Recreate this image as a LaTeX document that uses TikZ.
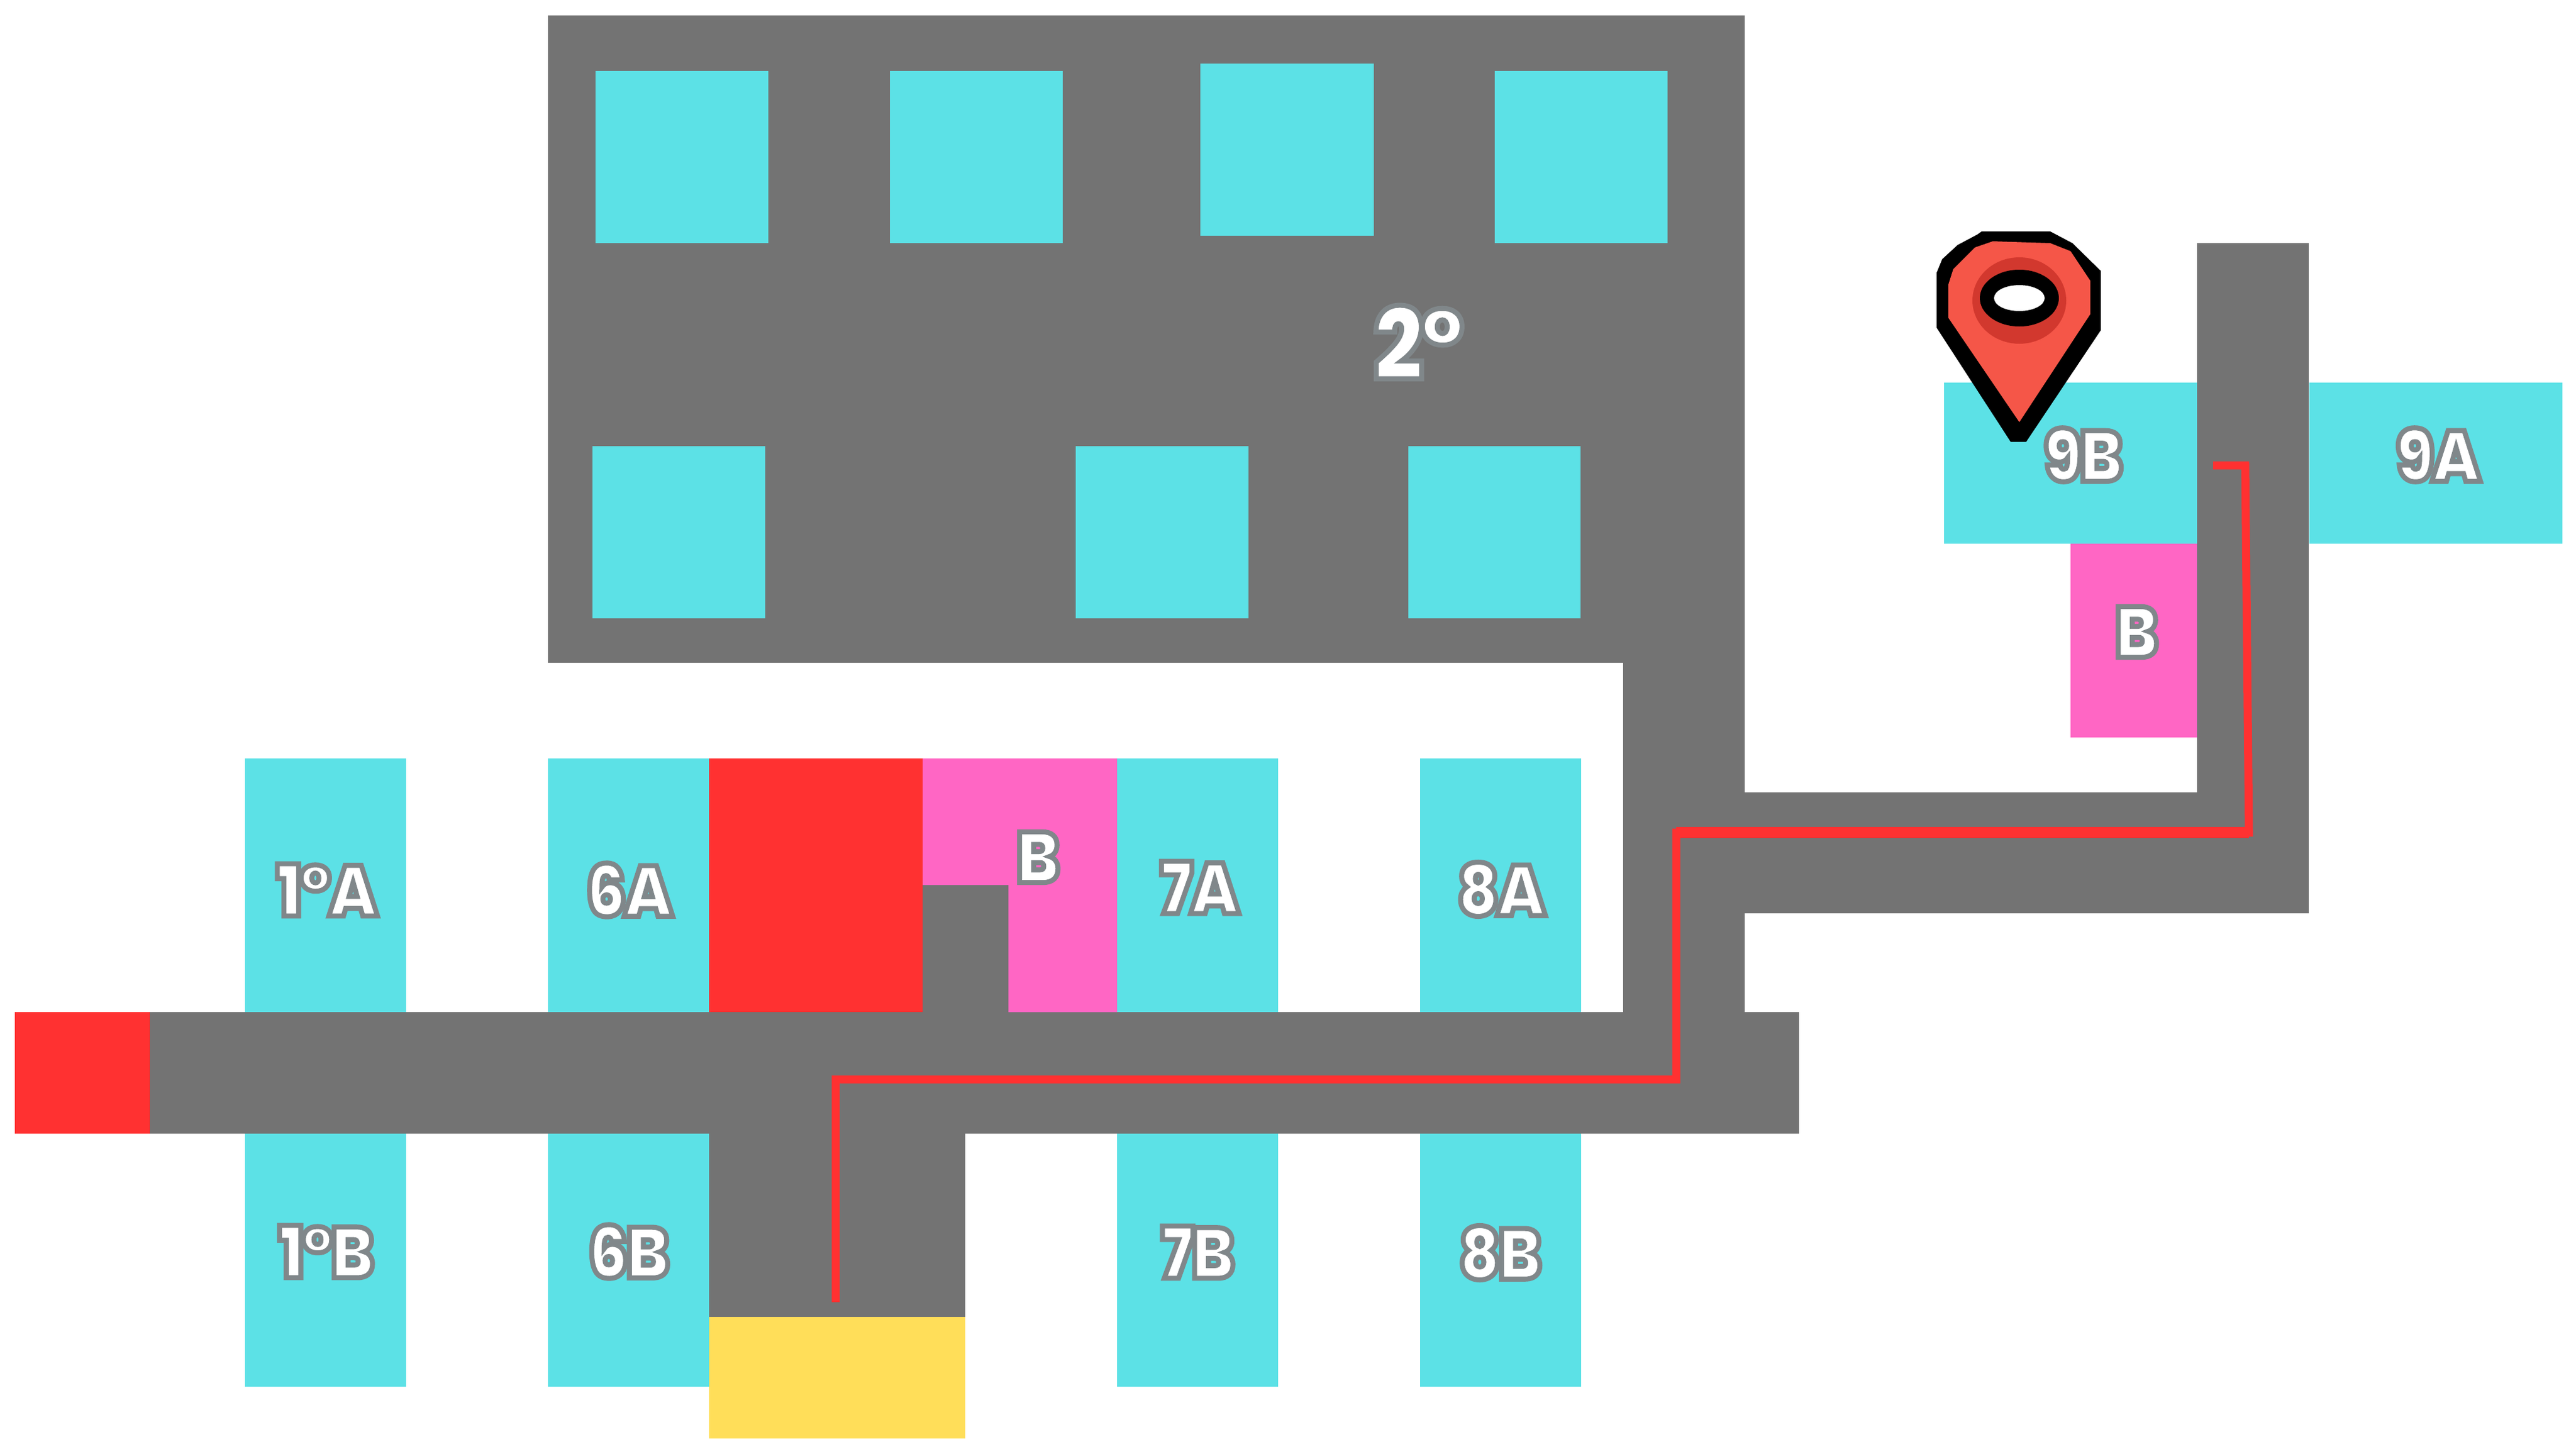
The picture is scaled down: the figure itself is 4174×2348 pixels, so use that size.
\documentclass[tikz,border=0pt]{standalone}
\usepackage{fontspec}
\newfontfamily\labfont{Poppins Black}[LetterSpace=-3,FakeStretch=0.88]
\definecolor{roomcyan}{HTML}{5CE1E6}
\definecolor{floorgrey}{HTML}{737373}
\definecolor{exitred}{HTML}{FF3131}
\definecolor{bathpink}{HTML}{FF66C4}
\definecolor{stairyellow}{HTML}{FFDE59}
\definecolor{pinred}{HTML}{F55648}
\definecolor{pindark}{HTML}{D2382E}
\newcommand{\outl}[2]{\special{pdf:code q 2 Tr #1 w 0.50 0.53 0.54 RG}#2\special{pdf:code Q}}
\tikzset{
  room/.style={fill=roomcyan},
  floorarea/.style={fill=floorgrey},
  label/.style={inner sep=0pt,text=white,font=\fontsize{33pt}{33pt}\labfont},
  route/.style={draw=exitred,line width=0.13cm,line join=miter}
}
\begin{document}
\begin{tikzpicture}[x=0.01cm,y=-0.01cm]
\useasboundingbox (0,0) rectangle (4174,2348);
% grey floors
\fill[floorarea] (888,25) rectangle (2827,1074);
\fill[floorarea] (2630,1074) rectangle (2827,1640);
\fill[floorarea] (243,1640) rectangle (2915,1837);
\fill[floorarea] (2630,1284) rectangle (3741,1480);
\fill[floorarea] (3560,394) rectangle (3741,1480);
\fill[floorarea] (1149,1837) rectangle (1564,2134);
\fill[floorarea] (1495,1434) rectangle (1634,1640);
% upper rooms
\fill[room] (965,115) rectangle (1245,394);
\fill[room] (1442,115) rectangle (1722,394);
\fill[room] (1945,103) rectangle (2226,382);
\fill[room] (2422,115) rectangle (2702,394);
\fill[room] (960,723) rectangle (1240,1002);
\fill[room] (1743,723) rectangle (2023,1002);
\fill[room] (2282,723) rectangle (2561,1002);
% lower rooms
\fill[room] (397,1229) rectangle (658,1640);
\fill[room] (888,1229) rectangle (1149,1640);
\fill[room] (1810,1229) rectangle (2071,1640);
\fill[room] (2301,1229) rectangle (2562,1640);
\fill[room] (397,1837) rectangle (658,2247);
\fill[room] (888,1837) rectangle (1149,2247);
\fill[room] (1810,1837) rectangle (2071,2247);
\fill[room] (2301,1837) rectangle (2562,2247);
\fill[room] (3150,620) rectangle (3560,881);
\fill[room] (3742,620) rectangle (4152,881);
% red blocks
\fill[exitred] (24,1640) rectangle (243,1837);
\fill[exitred] (1149,1229) rectangle (1495,1640);
% pink
\fill[bathpink] (1495,1229) -- (1810,1229) -- (1810,1640) -- (1634,1640) -- (1634,1434) -- (1495,1434) -- cycle;
\fill[bathpink] (3355,881) rectangle (3560,1195);
% yellow
\fill[stairyellow] (1149,2134) rectangle (1564,2331);
% route
\coordinate (r0) at (1354,2110);
\coordinate (r1) at (1354,1749);
\coordinate (r2) at (2716,1749);
\coordinate (r3) at (2716,1349);
\coordinate (r4) at (3644,1349);
\coordinate (r5) at (3638,754);
\coordinate (r6) at (3586,754);
\draw[route] (r0) -- (r1) -- (r2) -- (r3) -- (r4) -- (r5) -- (r6);
\draw[route,line width=0.18cm] (r3) -- (r4);
% labels
\node[label] (l1a) at (530,1442) {\outl{2.3}{1°A}};
\node[label] (l6a) at (1020,1442) {\outl{2.3}{6A}};
\node[label] (l7a) at (1944,1438) {\outl{2.3}{7A}};
\node[label] (l8a) at (2433,1441) {\outl{2.3}{8A}};
\node[label] (l1b) at (529,2028) {\outl{2.3}{1°B}};
\node[label] (l6b) at (1019,2028) {\outl{2.3}{6B}};
\node[label] (l7b) at (1941,2029) {\outl{2.3}{7B}};
\node[label] (l8b) at (2431,2030) {\outl{2.3}{8B}};
\node[label] (l9b) at (3376,737) {\outl{2.3}{9B}};
\node[label] (l9a) at (3951,737) {\outl{2.3}{9A}};
\node[label] (lb2) at (3462,1024) {\outl{2.3}{B}};
\node[label] (lb1) at (1682,1389) {\outl{2.3}{B}};
\node[label,font=\fontsize{46pt}{46pt}\labfont] (l2) at (2299,555) {\outl{2.3}{2°}};
% map pin
\fill[black] (3211,375) -- (3322,375) -- (3358,394) -- (3404,439) -- (3404,535) -- (3283,716) -- (3258,716) -- (3138,531) -- (3138,442) -- (3147,420) -- (3172,397) -- (3204,380) -- cycle;
\fill[pinred] (3157,461) -- (3165,436) -- (3200,401) -- (3229,391) -- (3322,394) -- (3355,407) -- (3387,455) -- (3387,509) -- (3272,684) -- (3157,515) -- cycle;
\fill[pindark] (3272,487) ellipse [x radius=76, y radius=70];
\fill[black] (3272,483) ellipse [x radius=64, y radius=46];
\fill[white] (3272,483) ellipse [x radius=41, y radius=21];
\end{tikzpicture}
\end{document}
